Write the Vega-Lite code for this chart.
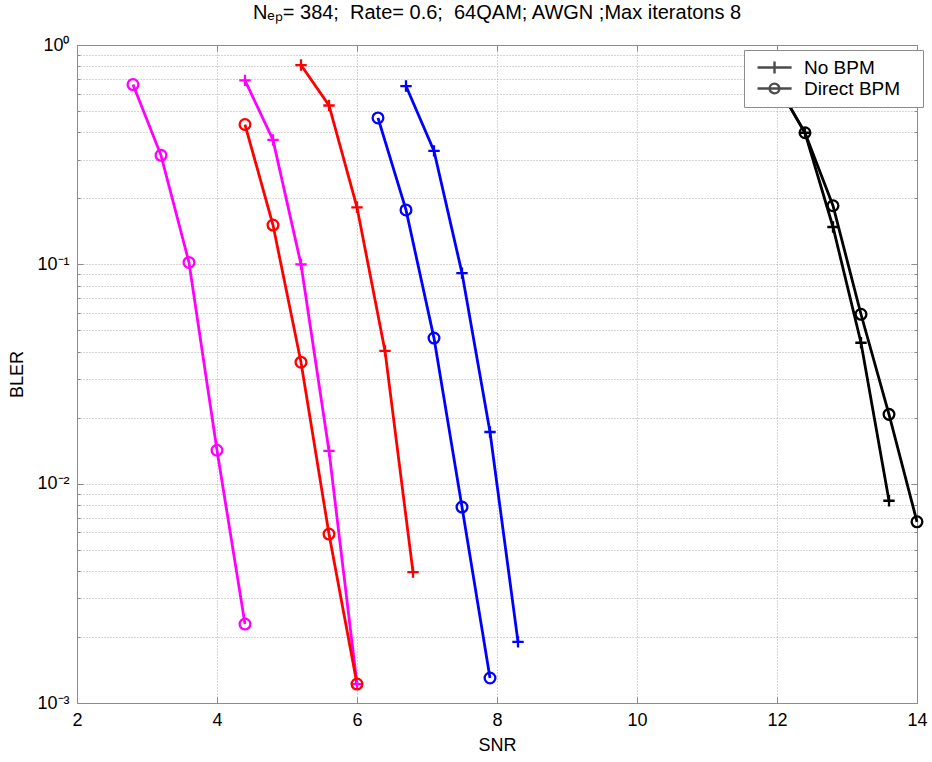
{
  "$schema": "https://vega.github.io/schema/vega-lite/v6.json",
  "width": 840,
  "height": 658,
  "autosize": {"type": "none"},
  "padding": {"left": 77, "top": 45, "right": 15, "bottom": 59},
  "background": "white",
  "title": {
    "text": "Nₑₚ= 384;\u00a0 Rate= 0.6;\u00a0 64QAM; AWGN ;Max iteratons 8",
    "font": "Liberation Sans",
    "fontSize": 20,
    "fontWeight": "normal",
    "color": "#000000",
    "anchor": "middle",
    "frame": "group",
    "offset": 13
  },
  "config": {
    "view": {"stroke": "#8c8c8c", "strokeWidth": 1},
    "axis": {
      "labelFont": "Liberation Sans",
      "titleFont": "Liberation Sans",
      "labelColor": "#000000",
      "titleColor": "#000000",
      "titleFontWeight": "normal",
      "labelFontSize": 18,
      "titleFontSize": 18,
      "domainColor": "#8c8c8c",
      "tickColor": "#8c8c8c",
      "gridColor": "#aaaaaa",
      "gridDash": [1, 2],
      "gridWidth": 1
    }
  },
  "data": {
    "values": [
      {"series": "m_o", "group": "g1", "bpm": "Direct BPM", "snr": 2.8, "bler": 0.66},
      {"series": "m_o", "group": "g1", "bpm": "Direct BPM", "snr": 3.2, "bler": 0.314},
      {"series": "m_o", "group": "g1", "bpm": "Direct BPM", "snr": 3.6, "bler": 0.102},
      {"series": "m_o", "group": "g1", "bpm": "Direct BPM", "snr": 4.0, "bler": 0.0142},
      {"series": "m_o", "group": "g1", "bpm": "Direct BPM", "snr": 4.4, "bler": 0.00229},
      {"series": "m_p", "group": "g1", "bpm": "No BPM", "snr": 4.4, "bler": 0.69},
      {"series": "m_p", "group": "g1", "bpm": "No BPM", "snr": 4.8, "bler": 0.369},
      {"series": "m_p", "group": "g1", "bpm": "No BPM", "snr": 5.2, "bler": 0.1},
      {"series": "m_p", "group": "g1", "bpm": "No BPM", "snr": 5.6, "bler": 0.0141},
      {"series": "m_p", "group": "g1", "bpm": "No BPM", "snr": 6.0, "bler": 0.00122},
      {"series": "r_o", "group": "g2", "bpm": "Direct BPM", "snr": 4.4, "bler": 0.434},
      {"series": "r_o", "group": "g2", "bpm": "Direct BPM", "snr": 4.8, "bler": 0.151},
      {"series": "r_o", "group": "g2", "bpm": "Direct BPM", "snr": 5.2, "bler": 0.0358},
      {"series": "r_o", "group": "g2", "bpm": "Direct BPM", "snr": 5.6, "bler": 0.00589},
      {"series": "r_o", "group": "g2", "bpm": "Direct BPM", "snr": 6.0, "bler": 0.00122},
      {"series": "r_p", "group": "g2", "bpm": "No BPM", "snr": 5.2, "bler": 0.81},
      {"series": "r_p", "group": "g2", "bpm": "No BPM", "snr": 5.6, "bler": 0.53},
      {"series": "r_p", "group": "g2", "bpm": "No BPM", "snr": 6.0, "bler": 0.182},
      {"series": "r_p", "group": "g2", "bpm": "No BPM", "snr": 6.4, "bler": 0.0403},
      {"series": "r_p", "group": "g2", "bpm": "No BPM", "snr": 6.8, "bler": 0.00395},
      {"series": "b_o", "group": "g3", "bpm": "Direct BPM", "snr": 6.3, "bler": 0.465},
      {"series": "b_o", "group": "g3", "bpm": "Direct BPM", "snr": 6.7, "bler": 0.177},
      {"series": "b_o", "group": "g3", "bpm": "Direct BPM", "snr": 7.1, "bler": 0.0461},
      {"series": "b_o", "group": "g3", "bpm": "Direct BPM", "snr": 7.5, "bler": 0.00782},
      {"series": "b_o", "group": "g3", "bpm": "Direct BPM", "snr": 7.9, "bler": 0.0013},
      {"series": "b_p", "group": "g3", "bpm": "No BPM", "snr": 6.7, "bler": 0.65},
      {"series": "b_p", "group": "g3", "bpm": "No BPM", "snr": 7.1, "bler": 0.329},
      {"series": "b_p", "group": "g3", "bpm": "No BPM", "snr": 7.5, "bler": 0.0912},
      {"series": "b_p", "group": "g3", "bpm": "No BPM", "snr": 7.9, "bler": 0.0172},
      {"series": "b_p", "group": "g3", "bpm": "No BPM", "snr": 8.3, "bler": 0.0019},
      {"series": "k_p", "group": "g4", "bpm": "No BPM", "snr": 12.0, "bler": 0.66},
      {"series": "k_p", "group": "g4", "bpm": "No BPM", "snr": 12.4, "bler": 0.398},
      {"series": "k_p", "group": "g4", "bpm": "No BPM", "snr": 12.8, "bler": 0.148},
      {"series": "k_p", "group": "g4", "bpm": "No BPM", "snr": 13.2, "bler": 0.0439},
      {"series": "k_p", "group": "g4", "bpm": "No BPM", "snr": 13.6, "bler": 0.00836},
      {"series": "k_o", "group": "g4", "bpm": "Direct BPM", "snr": 12.0, "bler": 0.66},
      {"series": "k_o", "group": "g4", "bpm": "Direct BPM", "snr": 12.4, "bler": 0.398},
      {"series": "k_o", "group": "g4", "bpm": "Direct BPM", "snr": 12.8, "bler": 0.185},
      {"series": "k_o", "group": "g4", "bpm": "Direct BPM", "snr": 13.2, "bler": 0.0592},
      {"series": "k_o", "group": "g4", "bpm": "Direct BPM", "snr": 13.6, "bler": 0.0207},
      {"series": "k_o", "group": "g4", "bpm": "Direct BPM", "snr": 14.0, "bler": 0.0067}
    ]
  },
  "layer": [
    {
      "mark": {"type": "line"},
      "encoding": {
        "x": {
          "field": "snr", "type": "quantitative",
          "scale": {"domain": [2, 14], "nice": false, "zero": false},
          "axis": {
            "values": [2, 4, 6, 8, 10, 12, 14],
            "title": "SNR", "titlePadding": 7,
            "grid": true, "tickSize": -6, "labelPadding": 14, "labelFlush": false
          }
        },
        "y": {
          "field": "bler", "type": "quantitative",
          "scale": {"type": "log", "domain": [0.001, 1], "nice": false},
          "axis": {
            "values": [0.001, 0.002, 0.003, 0.004, 0.005, 0.006, 0.007, 0.008, 0.009,
                       0.01, 0.02, 0.03, 0.04, 0.05, 0.06, 0.07, 0.08, 0.09,
                       0.1, 0.2, 0.3, 0.4, 0.5, 0.6, 0.7, 0.8, 0.9, 1],
            "labelExpr": "datum.value == 1 ? '10⁰' : datum.value == 0.1 ? '10⁻¹' : datum.value == 0.01 ? '10⁻²' : datum.value == 0.001 ? '10⁻³' : ''",
            "title": "BLER", "titlePadding": 10,
            "grid": true,
            "tickSize": {"condition": {"test": "datum.value == 1 || datum.value == 0.1 || datum.value == 0.01 || datum.value == 0.001", "value": -6}, "value": -3},
            "labelPadding": 14, "labelFlush": false, "labelOverlap": false
          }
        },
        "detail": {"field": "series", "type": "nominal"},
        "color": {
          "field": "group", "type": "nominal",
          "scale": {"domain": ["g1", "g2", "g3", "g4"], "range": ["#ff00ff", "#ff0000", "#0000ff", "#000000"]},
          "legend": null
        },
        "strokeWidth": {
          "field": "group", "type": "nominal",
          "scale": {"domain": ["g1", "g2", "g3", "g4"], "range": [2.8, 2.8, 2.8, 2.3]},
          "legend": null
        }
      }
    },
    {
      "mark": {"type": "point", "filled": false, "strokeWidth": 2.3, "opacity": 1},
      "encoding": {
        "x": {
          "field": "snr", "type": "quantitative",
          "axis": {"orient": "top", "values": [2, 4, 6, 8, 10, 12, 14], "labels": false, "title": null, "grid": false, "tickSize": -6}
        },
        "y": {
          "field": "bler", "type": "quantitative",
          "axis": {
            "orient": "right",
            "values": [0.001, 0.002, 0.003, 0.004, 0.005, 0.006, 0.007, 0.008, 0.009,
                       0.01, 0.02, 0.03, 0.04, 0.05, 0.06, 0.07, 0.08, 0.09,
                       0.1, 0.2, 0.3, 0.4, 0.5, 0.6, 0.7, 0.8, 0.9, 1],
            "labels": false, "title": null, "grid": false,
            "tickSize": {"condition": {"test": "datum.value == 1 || datum.value == 0.1 || datum.value == 0.01 || datum.value == 0.001", "value": -6}, "value": -3}
          }
        },
        "color": {"field": "group", "type": "nominal", "legend": null},
        "shape": {
          "field": "bpm", "type": "nominal",
          "scale": {"domain": ["No BPM", "Direct BPM"], "range": ["M-1,0H1M0,-1V1", "circle"]},
          "legend": null
        },
        "size": {
          "field": "bpm", "type": "nominal",
          "scale": {"domain": ["No BPM", "Direct BPM"], "range": [130, 115]},
          "legend": null
        }
      }
    },
    {
      "transform": [{"filter": {"field": "snr", "lt": 0}}],
      "mark": {"type": "point", "filled": false, "color": "#000000", "strokeWidth": 2.4},
      "encoding": {
        "x": {"field": "snr", "type": "quantitative", "axis": null},
        "y": {"field": "bler", "type": "quantitative", "axis": null},
        "shape": {
          "field": "bpm", "type": "nominal",
          "scale": {
            "domain": ["No BPM", "Direct BPM"],
            "range": ["M-0.57,0H4.3M1.86,-0.85V0.85", "M-0.57,0H4.3M1.16,0A0.7,0.7 0 1,0 2.56,0A0.7,0.7 0 1,0 1.16,0"]
          },
          "legend": {
            "title": null,
            "orient": "none",
            "legendX": 667,
            "legendY": 5,
            "zindex": 2,
            "fillColor": "#ffffff",
            "strokeColor": "#8c8c8c",
            "padding": 8,
            "rowPadding": -5,
            "symbolSize": 196,
            "symbolStrokeColor": "#000000",
            "symbolFillColor": "transparent",
            "symbolStrokeWidth": 2.4,
            "labelFont": "Liberation Sans",
            "labelFontSize": 19,
            "labelColor": "#000000",
            "labelOffset": 33,
            "labelExpr": "datum.label + '\u2800'"
          }
        }
      }
    }
  ],
  "resolve": {
    "scale": {"shape": "independent", "size": "independent"},
    "axis": {"x": "independent", "y": "independent"}
  }
}
